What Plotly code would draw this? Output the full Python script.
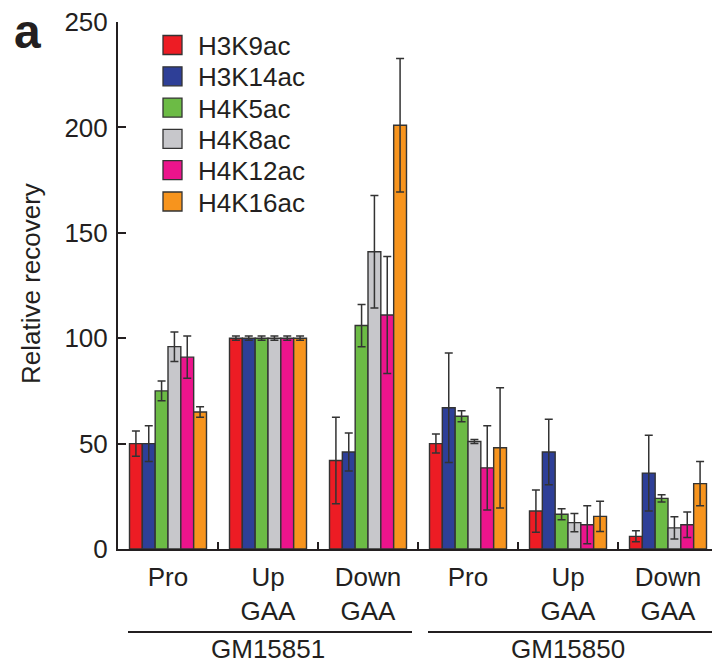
import plotly.graph_objects as go

series = ["H3K9ac", "H3K14ac", "H4K5ac", "H4K8ac", "H4K12ac", "H4K16ac"]
colors = ["#ED1C24", "#2E3F97", "#6CBB45", "#C7C7CB", "#EC148C", "#F7941D"]
groups = ["Pro", "Up<br>GAA", "Down<br>GAA", "Pro", "Up<br>GAA", "Down<br>GAA"]
cell_lines = ["GM15851", "GM15850"]
cell_line_groups = [(0, 2), (3, 5)]

h3k9ac = [50, 100, 42, 50, 18, 6]
h3k14ac = [50, 100, 46, 67, 46, 36]
h4k5ac = [75, 100, 106, 63, 16.5, 24]
h4k8ac = [96, 100, 141, 51, 12.5, 10]
h4k12ac = [91, 100, 111, 38.5, 11.5, 11.5]
h4k16ac = [65, 100, 201, 48, 15.5, 31]

h3k9ac_err = [6, 1, 20.5, 4.5, 10, 2.6]
h3k14ac_err = [8.5, 1, 9, 26, 15.5, 18]
h4k5ac_err = [4.7, 1, 10, 2.6, 2.6, 1.7]
h4k8ac_err = [7, 1, 26.7, 1, 4.3, 5.3]
h4k12ac_err = [10, 1, 27.7, 20, 9, 6]
h4k16ac_err = [2.5, 1, 31.7, 28.5, 7.2, 10.5]

values = [h3k9ac, h3k14ac, h4k5ac, h4k8ac, h4k12ac, h4k16ac]
errors = [h3k9ac_err, h3k14ac_err, h4k5ac_err, h4k8ac_err, h4k12ac_err, h4k16ac_err]

FONT = "Liberation Sans, Arial, Helvetica, sans-serif"
INK = "#231F20"
FS = 26
W, H = 712, 663
L, R, T, B = 118, 0, 22, 114
pw, ph = W - L - R, H - T - B

x = list(range(len(groups)))
fig = go.Figure()
for name, col, v, e in zip(series, colors, values, errors):
    fig.add_trace(go.Bar(
        x=x, y=v, name=name, marker=dict(color=col, line=dict(color="#333333", width=1.4)),
        error_y=dict(type="data", array=e, visible=True, color="#333333", thickness=1.5, width=4),
        showlegend=False, hoverinfo="skip",
    ))


def px_x(p):
    return (p - L) / pw


def px_y(p):
    return (T + ph - p) / ph


shapes = []
annotations = []
# manual legend (square swatches like the reference)
for i, (name, col) in enumerate(zip(series, colors)):
    cy = 45 + 31.3 * i
    shapes.append(dict(type="rect", xref="paper", yref="paper",
                       x0=px_x(163), x1=px_x(182), y0=px_y(cy + 9.5), y1=px_y(cy - 9.5),
                       fillcolor=col, line=dict(color="#333333", width=1.3)))
    annotations.append(dict(xref="paper", yref="paper", x=px_x(196), y=px_y(cy + 1),
                            text=name, showarrow=False, xanchor="left", yanchor="middle",
                            font=dict(family=FONT, size=FS, color=INK)))

# cell-line brackets
for label, (g0, g1) in zip(cell_lines, cell_line_groups):
    shapes.append(dict(type="line", xref="x", yref="paper", x0=g0 - 0.4, x1=g1 + 0.44,
                       y0=px_y(632), y1=px_y(632), line=dict(color=INK, width=2)))
    annotations.append(dict(xref="x", yref="paper", x=(g0 + g1) / 2, y=px_y(649),
                            text=label, showarrow=False, xanchor="center", yanchor="middle",
                            font=dict(family=FONT, size=FS, color=INK)))

# y-axis title
annotations.append(dict(xref="paper", yref="paper", x=px_x(31), y=px_y(284),
                        text="Relative recovery", textangle=-90, showarrow=False,
                        xanchor="center", yanchor="middle",
                        font=dict(family=FONT, size=FS, color=INK)))

# panel label
annotations.append(dict(xref="paper", yref="paper", x=px_x(27), y=px_y(31), text="<b>a</b>",
                        showarrow=False, xanchor="center", yanchor="middle",
                        font=dict(family=FONT, size=48, color=INK)))

fig.update_layout(
    width=W, height=H,
    margin=dict(l=L, r=R, t=T, b=B, pad=0, autoexpand=False),
    paper_bgcolor="white", plot_bgcolor="white",
    barmode="group", bargap=0.23, bargroupgap=0,
    font=dict(family=FONT, color=INK),
    shapes=shapes, annotations=annotations,
    xaxis=dict(
        automargin=False,
        range=[-0.5, len(groups) - 0.56], tickmode="array", tickvals=x, ticktext=groups,
        ticks="", showline=True, linecolor=INK, linewidth=2, showgrid=False, zeroline=False,
        tickfont=dict(family=FONT, size=FS, color=INK), ticklabelstandoff=4,
        minor=dict(tickmode="array", tickvals=[i + 0.5 for i in range(len(groups) - 1)],
                   ticks="inside", ticklen=7, tickwidth=1.5, tickcolor=INK, showgrid=False),
    ),
    yaxis=dict(
        automargin=False,
        range=[0, 250], tickvals=[0, 50, 100, 150, 200, 250], ticks="inside", ticklen=8,
        tickwidth=2, tickcolor=INK, showline=True, linecolor=INK, linewidth=2,
        showgrid=False, zeroline=False, tickfont=dict(family=FONT, size=FS, color=INK),
        ticklabelstandoff=3,
    ),
)

fig.write_html("out.html", config={"displayModeBar": False},
               post_script="document.body.style.margin='0';document.body.style.overflow='hidden';")
